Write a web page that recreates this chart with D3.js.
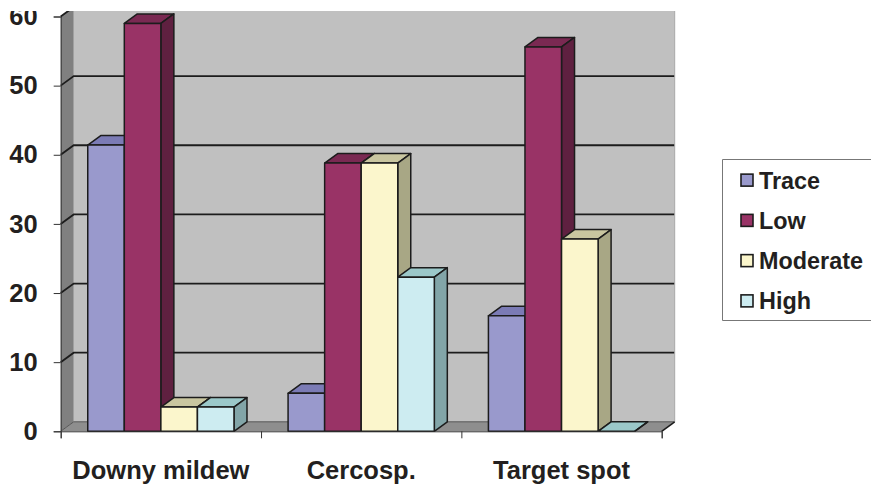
<!DOCTYPE html>
<html>
<head>
<meta charset="utf-8">
<script src="https://cdn.jsdelivr.net/npm/d3@7"></script>
<style>
  html, body { margin: 0; padding: 0; background: #fff; }
  svg { display: block; }
  text { font-family: "Liberation Sans", Arial, sans-serif; font-weight: 700; fill: #231f20; }
</style>
</head>
<body>
<div id="chart"></div>
<script>
// Dados
const categories = ['Downy mildew', 'Cercosp.', 'Target spot'];
const seriesNames = ['Trace', 'Low', 'Moderate', 'High'];
const trace = [41.4, 5.5, 16.7];
const low = [59, 38.8, 55.6];
const moderate = [3.5, 38.8, 27.8];
const high = [3.5, 22.3, 0];
const seriesValues = [trace, low, moderate, high];
const yTicks = [0, 10, 20, 30, 40, 50, 60];

// Cores: frente, topo, lateral
const frontColors = ['#9999cc', '#993366', '#fbf6cc', '#cdecf1'];
const topColors = ['#7b7bb5', '#7a2952', '#c9c6a0', '#9bc8c9'];
const sideColors = ['#6c6c99', '#5f2040', '#a8a785', '#82a5a8'];

const width = 871;
const height = 485;
const depthX = 13;
const depthY = 9.5;
const lineColor = '#1c1c1c';

const svg = d3.select('#chart')
  .append('svg')
  .attr('width', width)
  .attr('height', height);

// A imagem original é cortada no topo
svg.append('defs').append('clipPath')
  .attr('id', 'crop')
  .append('rect')
  .attr('x', 0)
  .attr('y', 11)
  .attr('width', width)
  .attr('height', height - 11);

const root = svg.append('g').attr('clip-path', 'url(#crop)');

// Escalas
const y = d3.scaleLinear().domain([0, 60]).range([431.3, 16.5]);
const x = d3.scaleBand().domain(categories).range([60.7, 661.7]);
const inner = d3.scaleBand()
  .domain(seriesNames)
  .range([0, x.bandwidth()])
  .paddingOuter(0.74)
  .paddingInner(0);
const edges = d3.scaleLinear().domain([0, 3]).range([60.7, 661.7]);

const poly = pts => pts.map(p => p.join(',')).join(' ');
const x0 = edges.range()[0];
const x1 = edges.range()[1];
const base = y(0);
const ceil = y(60);

// Parede do fundo
root.append('polygon')
  .attr('points', poly([[x0 + depthX, ceil - depthY], [x1 + depthX, ceil - depthY], [x1 + depthX, base - depthY], [x0 + depthX, base - depthY]]))
  .attr('fill', '#c0c0c0');

// Parede lateral
root.append('polygon')
  .attr('points', poly([[x0, ceil], [x0 + depthX, ceil - depthY], [x0 + depthX, base - depthY], [x0, base]]))
  .attr('fill', '#808080');

// Piso
root.append('polygon')
  .attr('points', poly([[x0, base], [x0 + depthX, base - depthY], [x1 + depthX, base - depthY], [x1, base]]))
  .attr('fill', '#8e8e8e');

// Linhas de grade
yTicks.forEach(t => {
  root.append('polyline')
    .attr('points', poly([[x0, y(t)], [x0 + depthX, y(t) - depthY], [x1 + depthX, y(t) - depthY]]))
    .attr('fill', 'none')
    .attr('stroke', t === 0 ? '#555' : lineColor)
    .attr('stroke-width', t === 0 ? 1 : 1.8);
});

// Borda direita da parede e diagonal do piso
root.append('line')
  .attr('x1', x1 + depthX)
  .attr('x2', x1 + depthX)
  .attr('y1', ceil - depthY)
  .attr('y2', base - depthY)
  .attr('stroke', '#a8a8a8');

root.append('line')
  .attr('x1', x1)
  .attr('x2', x1 + depthX)
  .attr('y1', base)
  .attr('y2', base - depthY)
  .attr('stroke', lineColor)
  .attr('stroke-width', 1.5);

// Barras 3D
categories.forEach((cat, c) => {
  const group = root.append('g').attr('transform', `translate(${x(cat)},0)`);
  seriesNames.forEach((name, s) => {
    const left = inner(name);
    const right = left + inner.bandwidth();
    const top = y(seriesValues[s][c]);
    const bar = group.append('g')
      .attr('stroke', lineColor)
      .attr('stroke-width', 1.5)
      .attr('stroke-linejoin', 'round');

    bar.append('polygon')
      .attr('points', poly([[left, top], [left + depthX, top - depthY], [right + depthX, top - depthY], [right, top]]))
      .attr('fill', topColors[s]);

    bar.append('polygon')
      .attr('points', poly([[right, top], [right + depthX, top - depthY], [right + depthX, base - depthY], [right, base]]))
      .attr('fill', sideColors[s]);

    bar.append('rect')
      .attr('x', left)
      .attr('y', top)
      .attr('width', right - left)
      .attr('height', base - top)
      .attr('fill', frontColors[s]);
  });
});

// Eixo Y
const yAxis = root.append('g')
  .attr('transform', `translate(${x0},0)`)
  .call(d3.axisLeft(y).tickValues(yTicks).tickSize(7).tickPadding(16));
yAxis.selectAll('text').style('font-size', '25.5px');

// Eixo X: marcas nas divisões das categorias
const xMarks = root.append('g')
  .attr('transform', `translate(0,${base})`)
  .call(d3.axisBottom(edges).tickValues([0, 1, 2, 3]).tickSize(7).tickFormat(''));

// Eixo X: rótulos
const xLabels = root.append('g')
  .attr('transform', `translate(0,${base})`)
  .call(d3.axisBottom(x).tickSize(0).tickPadding(30));
xLabels.select('.domain').remove();
xLabels.selectAll('text').style('font-size', '25.5px');

[yAxis, xMarks].forEach(a => {
  a.selectAll('line, .domain').attr('stroke', '#333');
});

// Legenda
const legendRows = d3.scaleBand().domain(seriesNames).range([160, 321]);
const legend = svg.append('g');

legend.append('polyline')
  .attr('points', poly([[width, 159.5], [722.5, 159.5], [722.5, 320.5], [width, 320.5]]))
  .attr('fill', 'none')
  .attr('stroke', '#777')
  .attr('stroke-width', 1);

seriesNames.forEach((name, s) => {
  const cy = legendRows(name) + legendRows.bandwidth() / 2;
  legend.append('rect')
    .attr('x', 741)
    .attr('y', cy - 6)
    .attr('width', 12)
    .attr('height', 12)
    .attr('fill', frontColors[s])
    .attr('stroke', lineColor)
    .attr('stroke-width', 1.6);
  legend.append('text')
    .attr('x', 759)
    .attr('y', cy)
    .attr('dy', '0.36em')
    .style('font-size', '23.4px')
    .text(name);
});
</script>
</body>
</html>
